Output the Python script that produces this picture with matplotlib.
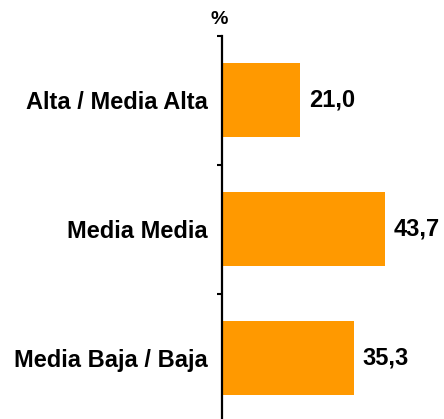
import matplotlib.pyplot as plt
import numpy as np

# Distribución por nivel socioeconómico (%)
categorias = ['Alta / Media Alta', 'Media Media', 'Media Baja / Baja']
valores = [21.0, 43.7, 35.3]

plt.rcParams['font.family'] = ['Liberation Sans', 'DejaVu Sans']
plt.rcParams['font.weight'] = 'bold'

fig = plt.figure(figsize=(4.44, 4.19), dpi=100)
ax = fig.add_axes([0.4989, -0.0084, 0.4212, 0.9236])

y = np.arange(len(categorias))
ax.barh(y, valores, height=0.58, color='#FF9900')

for yi, v in zip(y, valores):
    ax.annotate(f'{v:.1f}'.replace('.', ','), (v, yi), xytext=(9, 0),
                textcoords='offset pixels', va='center', ha='left',
                fontsize=17, fontweight='bold')

ax.set_ylim(2.5, -0.5)
ax.set_xlim(0, 50)
ax.set_yticks(y)
ax.set_yticklabels(categorias, fontsize=17, fontweight='bold')
ax.set_yticks([-0.5, 0.5, 1.5, 2.5], minor=True)
ax.tick_params(axis='y', which='major', length=0, pad=10)
ax.tick_params(axis='y', which='minor', length=3.6, width=1.5, direction='out')
ax.set_xticks([])

for s in ['top', 'right', 'bottom']:
    ax.spines[s].set_visible(False)
ax.spines['left'].set_linewidth(1.6)

fig.text(219.5 / 444, 1 - 20 / 419, '%', ha='center', va='center',
         fontsize=14, fontweight='bold')

plt.savefig('out.png', dpi=100)
